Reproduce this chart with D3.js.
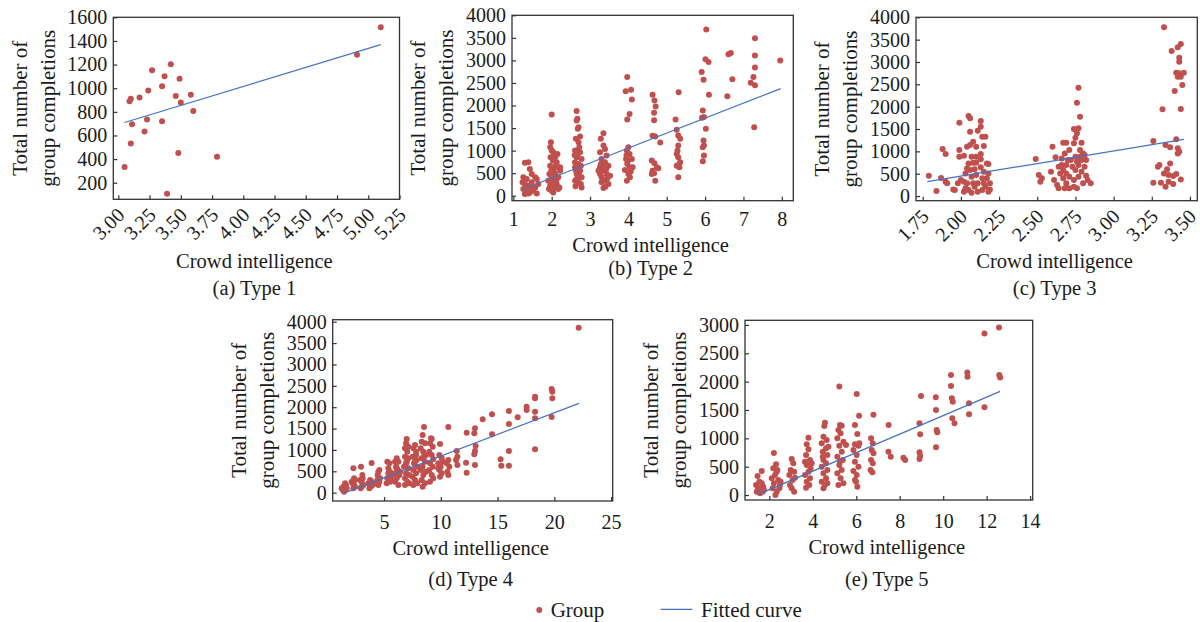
<!DOCTYPE html>
<html>
<head>
<meta charset="utf-8">
<script src="https://cdn.jsdelivr.net/npm/d3@7"></script>
<style>
  body { margin: 0; background: #fff; }
</style>
</head>
<body>
<svg id="chart" width="1200" height="622" font-family="'Liberation Serif', 'DejaVu Serif', serif"></svg>
<script>
// ---- data ----
const t1Points = [[3.05,333],[3.09,890],[3.10,910],[3.10,532],[3.11,696],[3.17,921],[3.21,634],[3.23,735],[3.24,980],[3.27,1152],[3.35,721],[3.35,1017],[3.37,1101],[3.39,107],[3.42,1203],[3.46,935],[3.48,451],[3.49,1079],[3.50,879],[3.58,944],[3.60,808],[3.79,420],[4.91,1284],[5.10,1515]];
const t1Fit = [[3.05,710],[5.10,1369]];
const t1XTicks = [3.00,3.25,3.50,3.75,4.00,4.25,4.50,4.75,5.00,5.25];
const t1YTicks = [200,400,600,800,1000,1200,1400,1600];

const t2Points = [
  [1.30,734],[1.39,742],[1.26,408],[1.35,371],[1.43,593],[1.48,482],[1.57,408],[1.61,371],[1.30,260],[1.39,223],[1.48,297],[1.26,148],[1.35,111],[1.43,74],[1.52,111],[1.61,52],[1.30,37],[1.39,52],[1.57,185],[1.65,260],[1.48,185],[1.24,297],
  [2.00,1803],[1.98,1187],[1.96,1075],[2.00,1001],[2.04,964],[2.09,853],[2.03,779],[2.13,742],[1.96,667],[2.17,630],[2.04,593],[2.22,556],[1.94,482],[2.09,482],[2.00,408],[2.17,408],[1.91,334],[2.04,297],[2.13,260],[1.96,223],[2.09,185],[2.00,111],[2.17,148],[2.04,74],[2.22,630],[2.11,667],[1.97,853],[2.15,927],[2.06,520],[1.99,560],[2.12,350],[1.93,150],[2.20,180],
  [2.65,1877],[2.67,1706],[2.70,1521],[2.63,1261],[2.74,1313],[2.70,1187],[2.61,1001],[2.74,964],[2.65,853],[2.78,816],[2.70,705],[2.61,630],[2.74,556],[2.65,482],[2.78,408],[2.61,334],[2.70,297],[2.78,185],[2.65,371],[2.72,1075],[2.61,742],[2.76,667],[2.68,1484],[2.65,1669],[2.63,560],[2.72,450],[2.60,900],[2.68,920],[2.76,260],[2.62,210],
  [3.35,1387],[3.28,1261],[3.35,1113],[3.39,1038],[3.26,964],[3.43,890],[3.30,816],[3.39,742],[3.48,667],[3.26,630],[3.35,556],[3.43,482],[3.52,445],[3.30,408],[3.39,334],[3.48,260],[3.35,171],[3.26,482],[3.42,593],[3.33,742],[3.22,556],[3.30,300],[3.45,380],[3.28,700],[3.37,620],[3.40,200],
  [3.97,2633],[3.93,2314],[4.07,2351],[4.09,2136],[4.03,1810],[3.97,1691],[4.00,1075],[3.96,1001],[4.03,927],[3.94,816],[4.09,816],[3.97,705],[4.04,630],[3.91,571],[4.11,630],[4.00,482],[3.96,334],[4.04,408],[3.95,900],[4.06,540],[3.98,760],
  [4.63,2240],[4.68,2114],[4.71,1981],[4.67,1840],[4.67,1676],[4.63,1328],[4.70,1313],[4.83,1179],[4.61,779],[4.68,719],[4.74,630],[4.63,556],[4.78,608],[4.61,482],[4.70,334],[4.67,497],
  [5.31,2292],[5.23,1691],[5.26,1461],[5.30,1335],[5.35,1261],[5.30,1113],[5.26,927],[5.30,853],[5.35,742],[5.26,667],[5.33,630],[5.30,408],[5.28,1000],[5.32,700],
  [6.03,3687],[6.01,3027],[6.09,2967],[5.91,2745],[5.96,2574],[6.10,2240],[5.94,1892],[5.97,1743],[5.92,1728],[6.02,1484],[5.96,1224],[5.97,1113],[5.94,1075],[5.97,890],[5.94,764],
  [6.58,2203],[6.61,3138],[6.67,3167],[6.71,2581],
  [7.30,3494],[7.30,3108],[7.30,2841],[7.26,2633],[7.19,2507],[7.30,2448],[7.28,1521],
  [7.96,2997]
];
const t2Fit = [[1.26,148],[7.97,2374]];
const t2XTicks = [1,2,3,4,5,6,7,8];
const t2YTicks = [0,500,1000,1500,2000,2500,3000,3500,4000];

const t3Points = [
  [1.79,455],[1.84,112],[1.87,403],[1.88,1052],[1.90,940],[1.90,321],[1.91,284],[1.95,149],[1.96,134],[1.99,1642],[1.99,1030],[1.99,881],[2.02,903],[1.98,284],[2.05,1791],[2.06,1739],[2.06,1440],[2.04,1105],[2.06,1142],[2.08,1216],[2.10,1105],[2.13,1679],[2.13,1552],[2.11,1463],[2.14,1328],[2.16,1328],[2.15,1119],[2.13,940],[2.10,881],[2.07,881],[2.05,731],[2.08,746],[2.10,746],[2.13,821],[2.17,731],[2.18,716],[2.04,619],[2.06,582],[2.09,597],[2.13,642],[2.15,545],[2.18,507],[2.03,507],[2.00,358],[2.02,321],[2.04,284],[2.07,433],[2.10,470],[2.14,396],[2.17,396],[2.19,284],[2.03,172],[2.05,134],[2.07,75],[2.09,209],[2.11,97],[2.14,134],[2.16,209],[2.18,97],[2.19,149],[2.02,97],[2.08,284],[2.15,284],[2.11,284],
  [2.49,828],[2.51,470],[2.53,396],[2.52,321],[2.60,1105],[2.62,866],[2.59,545],[2.61,358],[2.63,246],[2.64,172],[2.67,1194],[2.69,1194],[2.68,955],[2.66,694],[2.65,507],[2.67,396],[2.69,284],[2.71,172],[2.74,209],[2.76,172],[2.70,806],[2.73,657],[2.75,582],[2.77,694],[2.79,806],[2.80,955],[2.78,1030],[2.71,1030],[2.74,1179],[2.75,1306],[2.76,1403],[2.77,1515],[2.74,1500],[2.78,1776],[2.76,2090],[2.77,2425],[2.79,1194],[2.81,918],[2.82,806],[2.81,657],[2.79,545],[2.82,455],[2.85,284],[2.83,358],[2.77,433],[2.74,358],[2.69,507],[2.67,582],[2.64,657],[2.72,806],[2.75,881],[2.78,881],[2.69,694],[2.76,769],[2.66,843],[2.71,433],[2.80,284],[2.68,172],
  [3.33,3776],[3.38,3246],[3.42,3329],[3.44,3403],[3.43,3097],[3.43,3008],[3.41,2761],[3.43,2746],[3.46,2761],[3.42,2672],[3.44,2672],[3.45,2485],[3.40,2351],[3.32,1940],[3.44,1948],[3.26,1231],[3.34,1142],[3.37,1090],[3.41,1269],[3.42,1067],[3.42,955],[3.43,993],[3.30,694],[3.29,657],[3.35,597],[3.37,731],[3.33,507],[3.36,470],[3.39,448],[3.41,492],[3.26,299],[3.31,299],[3.34,209],[3.36,321],[3.39,269],[3.44,373]
];
const t3Fit = [[1.78,321],[3.46,1269]];
const t3XTicks = [1.75,2.00,2.25,2.50,2.75,3.00,3.25,3.50];
const t3YTicks = [0,500,1000,1500,2000,2500,3000,3500,4000];

const t4Points = [
  [1.42,140],[1.57,101],[1.36,62],[1.65,179],[1.48,23],[1.71,101],[1.27,101],[1.57,218],
  [2.30,569],[2.36,335],[2.24,218],[2.45,140],[2.30,101],[2.15,257],[2.45,296],[2.36,179],
  [2.97,608],[3.09,413],[2.89,296],[3.03,257],[3.18,179],[2.95,101],[3.12,335],[3.03,140],
  [3.91,694],[3.77,296],[3.62,218],[3.83,140],[3.71,101],[4.00,179],[3.91,257],
  [4.59,530],[4.44,413],[4.65,335],[4.35,218],[4.50,179],[4.59,257],[4.50,491],[4.41,296],
  [5.29,725],[5.47,686],[5.53,491],[5.38,452],[5.29,335],[5.59,335],[5.23,218],[5.53,257],[5.38,569],[5.68,413],
  [6.12,803],[5.97,725],[6.26,725],[6.06,608],[6.20,530],[5.97,452],[6.35,413],[6.12,335],[5.97,257],[6.26,179],[6.12,569],[6.41,491],
  [7.00,1256],[6.94,1154],[6.85,1037],[7.05,959],[6.85,842],[7.14,803],[6.94,686],[6.76,608],[7.14,569],[6.94,452],[7.23,413],[6.85,335],[7.05,257],[6.85,179],[7.23,218],[7.00,725],[7.14,1076],
  [7.73,1115],[7.58,1037],[7.82,959],[7.52,842],[7.88,764],[7.64,686],[7.94,608],[7.58,530],[7.82,452],[7.52,374],[7.73,296],[7.94,218],[7.58,179],[7.82,881],[7.73,725],
  [8.52,1537],[8.40,1349],[8.32,1193],[8.61,1154],[8.23,1037],[8.46,959],[8.70,881],[8.32,803],[8.61,725],[8.40,608],[8.23,530],[8.70,491],[8.46,413],[8.32,296],[8.61,218],[8.40,140],[8.52,842],
  [9.20,1256],[9.05,1154],[9.29,1076],[8.99,959],[9.20,881],[9.34,788],[9.05,686],[9.29,608],[8.99,530],[9.20,413],[9.34,335],[9.05,257],[9.14,1271],
  [9.93,1139],[9.87,881],[10.08,803],[9.78,686],[9.99,608],[9.87,530],[10.08,452],[9.93,374],[10.17,725],[9.78,569],
  [10.66,1537],[10.66,764],[10.52,686],[10.75,608],[10.58,491],[10.66,413],
  [11.40,975],[11.46,842],[11.34,764],[11.46,647],
  [12.28,1404],[12.22,702],[12.28,468],
  [13.01,1505],[12.95,1388],[13.07,1092],[13.01,975],[12.95,897],[13.01,647],
  [13.69,1716],[14.51,1833],[14.51,1365],[15.27,780],[15.33,632],
  [16.00,1911],[16.00,1607],[16.00,975],[16.00,632],[16.77,1763],[17.56,2012],[17.56,1934],
  [18.30,2246],[18.30,2207],[18.30,1895],[18.30,1739],[18.30,1014],
  [19.76,2426],[19.82,2363],[19.82,2207],[19.76,1771],[22.14,3861]
];
const t4Fit = [[1.42,-16],[22.17,2090]];
const t4XTicks = [5,10,15,20,25];
const t4YTicks = [0,500,1000,1500,2000,2500,3000,3500,4000];

const t5Points = [
  [1.46,335],[1.65,424],[1.39,176],[1.49,118],[1.60,88],[1.72,147],[1.42,59],[1.57,29],[1.69,59],[1.54,235],[1.65,206],[1.75,88],
  [2.21,741],[2.31,541],[2.18,471],[2.37,441],[2.26,353],[2.11,294],[2.41,265],[2.21,206],[2.49,176],[2.15,118],[2.34,59],[2.46,118],[2.28,0],[2.52,235],[2.34,412],
  [3.03,635],[3.10,559],[2.98,441],[3.14,412],[2.92,353],[3.07,265],[2.95,176],[3.14,59],[3.03,118],[3.18,306],
  [3.80,1012],[3.72,894],[3.80,806],[3.69,706],[3.87,618],[3.72,529],[3.90,471],[3.80,412],[3.64,353],[3.87,294],[3.72,235],[3.84,176],[3.69,129],[3.95,559],[3.64,588],
  [4.56,1276],[4.53,1218],[4.49,1029],[4.64,970],[4.41,912],[4.61,823],[4.46,765],[4.67,706],[4.49,618],[4.61,559],[4.41,500],[4.67,441],[4.49,382],[4.61,294],[4.41,235],[4.67,206],[4.49,118],[4.56,176],[4.72,853],[4.46,676],
  [5.22,1912],[5.25,1235],[5.33,1223],[5.18,1147],[5.28,1088],[5.13,1000],[5.41,941],[5.22,871],[5.33,765],[5.13,676],[5.38,618],[5.22,529],[5.33,441],[5.13,382],[5.28,294],[5.18,176],[5.41,206],[5.53,882],[5.25,588],
  [6.02,1782],[5.94,1235],[6.05,1076],[5.94,894],[6.10,871],[5.87,794],[6.02,706],[5.94,588],[6.10,500],[5.87,424],[6.02,353],[5.94,265],[6.05,147],[5.99,235],[6.14,912],[6.13,1400],
  [6.79,1418],[6.68,1000],[6.76,912],[6.71,794],[6.79,735],[6.68,618],[6.76,559],[6.66,441],[6.74,400],
  [7.49,1235],[7.48,765],[7.59,676],[8.17,659],[8.25,618],
  [8.98,1747],[8.91,1265],[8.94,1070],[8.91,753],[8.94,694],[8.91,635],
  [9.66,1723],[9.67,1500],[9.70,1147],[9.73,1106],[9.67,841],
  [10.36,2118],[10.36,1923],[10.40,1706],[10.44,1647],[10.42,1353],[10.52,1265],
  [11.11,2159],[11.12,2088],[11.19,1618],[11.19,1423],
  [11.90,2847],[11.90,1547],[12.57,2953],[12.58,2118],[12.62,2071]
];
const t5Fit = [[1.49,12],[12.62,1829]];
const t5XTicks = [2,4,6,8,10,12,14];
const t5YTicks = [0,500,1000,1500,2000,2500,3000];

const captions = ["(a) Type 1", "(b) Type 2", "(c) Type 3", "(d) Type 4", "(e) Type 5"];
const xTitle = "Crowd intelligence";
const yTitle = ["Total number of", "group completions"];
const legendLabels = ["Group", "Fitted curve"];

const dotColor = "#c0504d";
const lineColor = "#4472c4";
const axisColor = "#333";
const textColor = "#1a1a1a";
const serif = "'Liberation Serif', 'DejaVu Serif', serif";

const svg = d3.select("#chart");

const panels = [
  { pts: t1Points, fit: t1Fit, xt: t1XTicks, yt: t1YTicks, xDom: [2.96, 5.25], yDom: [60, 1600],
    x0: 113.3, x1: 399.5, y0: 17.3, y1: 199.3, rot: true, fmt: ".2f", titleY: 268, capY: 295, cap: captions[0] },
  { pts: t2Points, fit: t2Fit, xt: t2XTicks, yt: t2YTicks, xDom: [0.965, 8.30], yDom: [-110, 4000],
    x0: 512, x1: 793.3, y0: 15.3, y1: 200.7, rot: false, pad: 11, titleY: 252, capY: 275, cap: captions[1] },
  { pts: t3Points, fit: t3Fit, xt: t3XTicks, yt: t3YTicks, xDom: [1.706, 3.548], yDom: [-104, 4000],
    x0: 916, x1: 1197.3, y0: 17.3, y1: 200.7, rot: true, fmt: ".2f", titleY: 268, capY: 295, cap: captions[2] },
  { pts: t4Points, fit: t4Fit, xt: t4XTicks, yt: t4YTicks, xDom: [0.48, 25.14], yDom: [-195, 4047],
    x0: 332.7, x1: 612.7, y0: 319.7, y1: 501, rot: false, pad: 14, titleY: 555, capY: 586, cap: captions[3] },
  { pts: t5Points, fit: t5Fit, xt: t5XTicks, yt: t5YTicks, xDom: [0.88, 14.12], yDom: [-88, 3082],
    x0: 745, x1: 1032.7, y0: 320.3, y1: 500, rot: false, pad: 14, titleY: 554, capY: 586, cap: captions[4] }
];

panels.forEach(p => {
  const x = d3.scaleLinear().domain(p.xDom).range([p.x0, p.x1]);
  const y = d3.scaleLinear().domain(p.yDom).range([p.y1, p.y0]);
  const g = svg.append("g");

  // points
  g.append("g").selectAll("circle")
    .data(p.pts)
    .enter()
    .append("circle")
    .attr("cx", d => x(d[0]))
    .attr("cy", d => y(d[1]))
    .attr("r", 3)
    .attr("fill", dotColor);

  // fitted line
  g.append("path")
    .datum(p.fit)
    .attr("d", d3.line().x(d => x(d[0])).y(d => y(d[1])))
    .attr("fill", "none")
    .attr("stroke", lineColor)
    .attr("stroke-width", 1.2);

  // axes, ticks pointing inward
  const xAxis = g.append("g")
    .attr("transform", `translate(0,${p.y1})`)
    .call(d3.axisBottom(x).tickValues(p.xt).tickSize(-4).tickPadding(p.pad || 10)
      .tickFormat(p.fmt ? d3.format(p.fmt) : d3.format("d")));
  const yAxis = g.append("g")
    .attr("transform", `translate(${p.x0},0)`)
    .call(d3.axisLeft(y).tickValues(p.yt).tickSize(-4).tickPadding(6).tickFormat(d3.format("d")));

  [xAxis, yAxis].forEach(a => {
    a.attr("font-family", serif).attr("font-size", 20);
    a.select(".domain").remove();
    a.selectAll("line").attr("stroke", axisColor).attr("stroke-width", 1.2);
    a.selectAll("text").attr("fill", textColor);
  });

  if (p.rot) {
    xAxis.selectAll("text")
      .attr("x", 0).attr("y", 0).attr("dy", "0.35em")
      .attr("text-anchor", "end")
      .attr("transform", "translate(2,12) rotate(-45)");
  }

  // frame
  g.append("rect")
    .attr("x", p.x0).attr("y", p.y0)
    .attr("width", p.x1 - p.x0).attr("height", p.y1 - p.y0)
    .attr("fill", "none")
    .attr("stroke", axisColor)
    .attr("stroke-width", 1.3);

  const cx = (p.x0 + p.x1) / 2 - 2;
  const cy = (p.y0 + p.y1) / 2;

  g.append("text").attr("x", cx).attr("y", p.titleY)
    .attr("text-anchor", "middle").attr("font-family", serif).attr("font-size", 20.5)
    .attr("fill", textColor).text(xTitle);
  g.append("text").attr("x", cx).attr("y", p.capY)
    .attr("text-anchor", "middle").attr("font-family", serif).attr("font-size", 20.5)
    .attr("fill", textColor).text(p.cap);

  yTitle.forEach((t, i) => {
    g.append("text")
      .attr("transform", `translate(${p.x0 - 94 + i * 28},${cy}) rotate(-90)`)
      .attr("text-anchor", "middle")
      .attr("dy", "0.35em")
      .attr("font-family", serif)
      .attr("font-size", 21)
      .attr("fill", textColor)
      .text(t);
  });
});

// legend
const leg = svg.append("g").attr("font-family", serif).attr("font-size", 21).attr("fill", textColor);
leg.append("circle").attr("cx", 539.3).attr("cy", 610).attr("r", 3).attr("fill", dotColor);
leg.append("text").attr("x", 550.7).attr("y", 616.5).text(legendLabels[0]);
leg.append("line").attr("x1", 660.7).attr("x2", 692.3).attr("y1", 609.3).attr("y2", 609.3)
  .attr("stroke", lineColor).attr("stroke-width", 1.2);
leg.append("text").attr("x", 701).attr("y", 616.5).text(legendLabels[1]);
</script>
</body>
</html>
